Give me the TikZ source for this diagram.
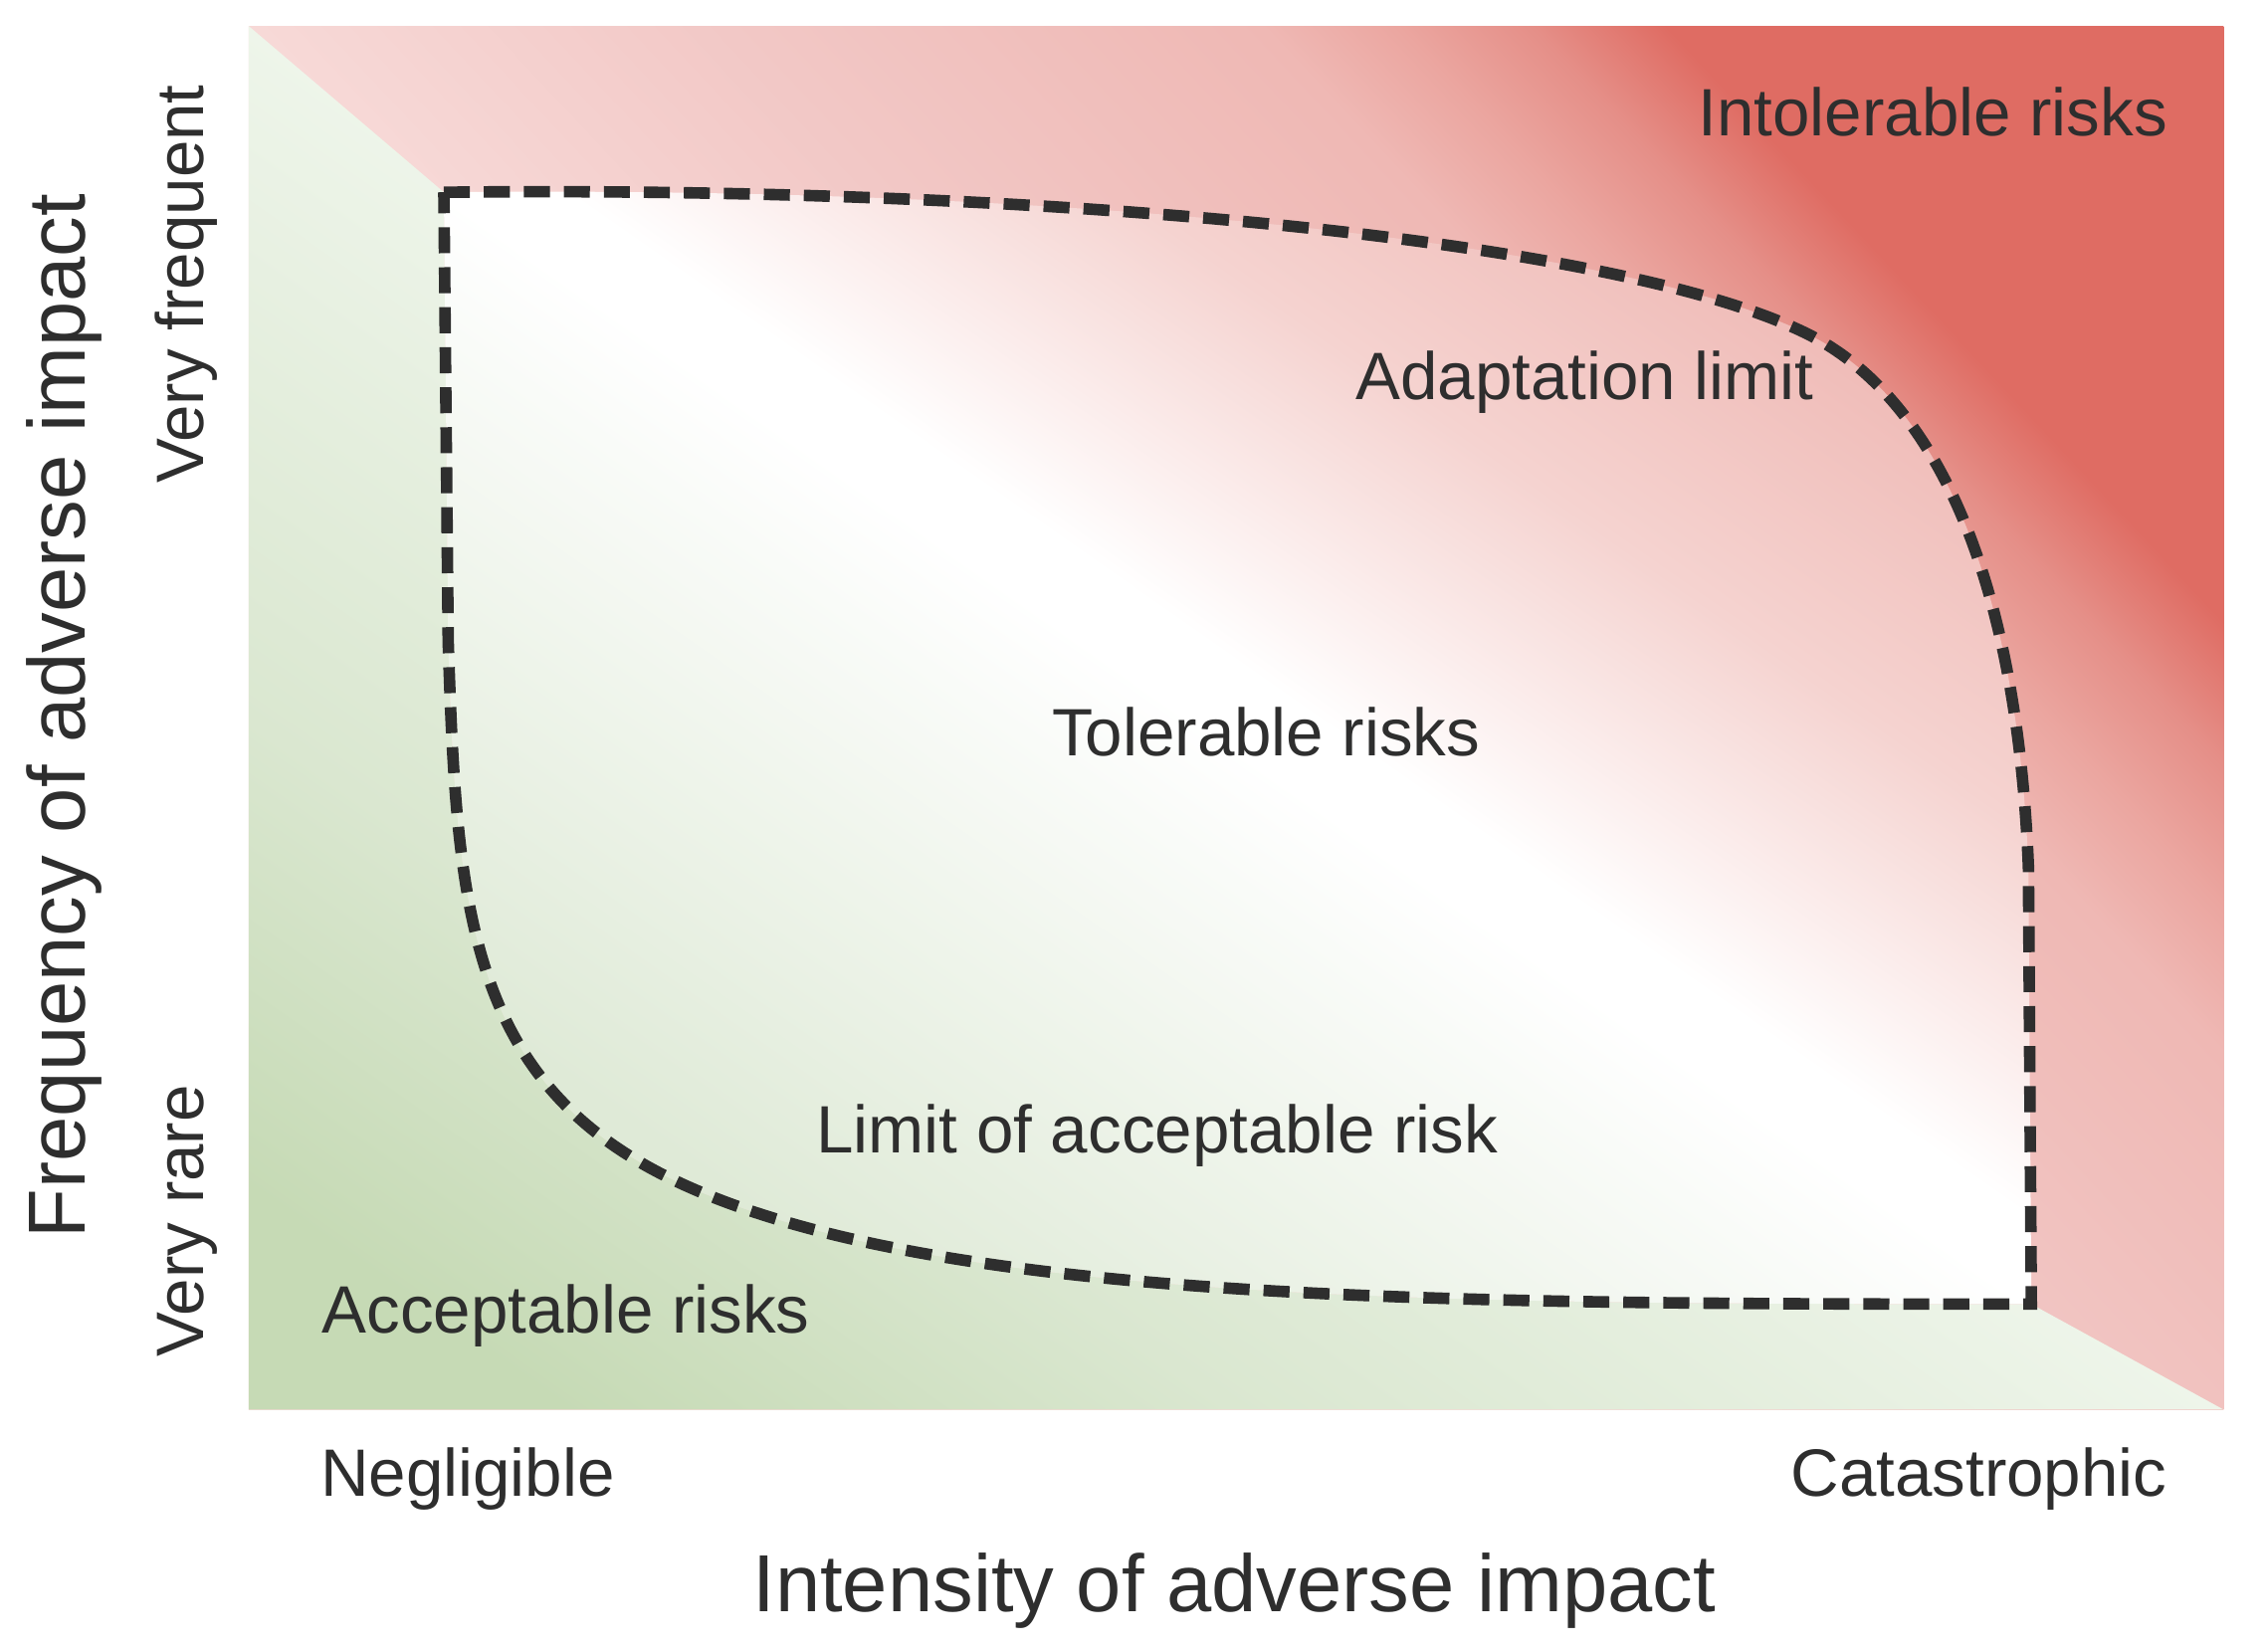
\documentclass[tikz,border=0pt]{standalone}
\usepackage{fontspec}
\setmainfont{Liberation Sans}
\usepackage{tikz}

\definecolor{inkgray}{HTML}{2E2E2E}
\definecolor{redpale}{HTML}{F7D9D7}
\definecolor{redlight}{HTML}{F2C8C6}
\definecolor{redmid}{HTML}{EFB8B4}
\definecolor{redwarm}{HTML}{EBA6A0}
\definecolor{redhot}{HTML}{E58F88}
\definecolor{reddeep}{HTML}{DF6C63}
\definecolor{greendeep}{HTML}{C6DAB5}
\definecolor{greenmid}{HTML}{DAE7D0}
\definecolor{greenpale}{HTML}{EEF5EA}
\definecolor{ingreen}{HTML}{DCE8D2}
\definecolor{ingreenmid}{HTML}{DFEAD7}
\definecolor{ingreenpale}{HTML}{EEF4EA}
\definecolor{inwhitish}{HTML}{F9FBF8}
\definecolor{inblush}{HTML}{FBECEB}
\definecolor{inpinkpale}{HTML}{F5D3D0}
\definecolor{inpink}{HTML}{F0BDB9}
\definecolor{inpinkdeep}{HTML}{EBA8A3}

\pgfdeclarehorizontalshading{redzone}{100bp}{%
  color(0bp)=(redpale); color(45bp)=(redpale); color(52bp)=(redlight);
  color(60bp)=(redmid); color(62bp)=(redwarm); color(64bp)=(redhot);
  color(66bp)=(reddeep); color(100bp)=(reddeep)}
\pgfdeclarehorizontalshading{greenzone}{100bp}{%
  color(0bp)=(greendeep); color(29bp)=(greendeep); color(37.5bp)=(greenmid);
  color(50bp)=(greenpale); color(100bp)=(greenpale)}
\pgfdeclarehorizontalshading{tolerzone}{100bp}{%
  color(0bp)=(ingreen); color(35bp)=(ingreenmid); color(42bp)=(ingreenpale);
  color(47bp)=(inwhitish); color(49.5bp)=(white); color(51bp)=(white);
  color(54bp)=(inblush); color(58bp)=(inpinkpale); color(64bp)=(inpink);
  color(70bp)=(inpinkdeep); color(100bp)=(inpinkdeep)}

\tikzset{
  zonetext/.style={font=\fontsize{13.9}{16}\selectfont, text=inkgray, inner sep=0pt, anchor=base west},
  axistext/.style={zonetext, font=\fontsize{16.8}{20}\selectfont},
  limitline/.style={draw=inkgray, line width=2.4pt, dash pattern=on 5.4pt off 2.9pt}
}

\begin{document}
\begin{tikzpicture}[x=0.3pt, y=-0.3pt]
\useasboundingbox (0,0) rectangle (1568,1142);
% chart corners and the corners of the tolerable zone
\coordinate (plotNW) at (172,18);
\coordinate (plotNE) at (1538,18);
\coordinate (plotSE) at (1538,975);
\coordinate (plotSW) at (172,975);
\coordinate (mid) at (855,496.5);
\coordinate (tl) at (307,133);
\coordinate (bend) at (1263,238);
\coordinate (rt) at (1403,600);
\coordinate (br) at (1405,902);
\coordinate (knee) at (472,819);
\coordinate (lf) at (310,444);

% intolerable side
\begin{scope}
  \clip (plotNW) rectangle (plotSE);
  \begin{scope}[transform canvas={rotate around={43.1:(mid)}}]
    \shade[shading=redzone] (5,-503.5) rectangle (1705,1496.5);
  \end{scope}
\end{scope}
% acceptable side
\begin{scope}
  \clip (plotNW) -- (tl) -- (lf) .. controls (316,628) and (323,751) .. (knee)
        .. controls (651,901) and (1000,902) .. (br) -- (plotSE) -- (plotSW) -- cycle;
  \begin{scope}[transform canvas={rotate around={55:(mid)}}]
    \shade[shading=greenzone] (71.2,-503.5) rectangle (1638.8,1496.5);
  \end{scope}
\end{scope}
% tolerable zone
\begin{scope}
  \clip (tl) .. controls (750,128) and (1150,170) .. (bend)
        .. controls (1340,285) and (1395,400) .. (rt) -- (br)
        .. controls (1000,902) and (651,901) .. (knee)
        .. controls (323,751) and (316,628) .. (lf) -- cycle;
  \begin{scope}[transform canvas={rotate around={55:(mid)}}]
    \shade[shading=tolerzone] (71.2,-503.5) rectangle (1638.8,1496.5);
  \end{scope}
\end{scope}

\draw[limitline] (tl) .. controls (750,128) and (1150,170) .. (bend)
  .. controls (1340,285) and (1395,400) .. (rt) -- (br)
  .. controls (1000,902) and (651,901) .. (knee)
  .. controls (323,751) and (316,628) .. (lf) -- cycle;

\node[zonetext] (intol) at (1174,94) {Intolerable risks};
\node[zonetext] (adapt) at (937,276.5) {Adaptation limit};
\node[zonetext] (toler) at (727,522.7) {Tolerable risks};
\node[zonetext] (acclim) at (564,797.4) {Limit of acceptable risk};
\node[zonetext] (accept) at (222,922) {Acceptable risks};
\node[zonetext] (neglig) at (221,1035) {Negligible};
\node[zonetext] (catast) at (1238,1035) {Catastrophic};
\node[axistext] (intens) at (520,1115) {Intensity of adverse impact};
\node[axistext, rotate=90] (freq) at (59,857) {Frequency of adverse impact};
\node[zonetext, rotate=90] (vfreq) at (141,335) {Very frequent};
\node[zonetext, rotate=90] (vrare) at (141,939) {Very rare};
\end{tikzpicture}
\end{document}
